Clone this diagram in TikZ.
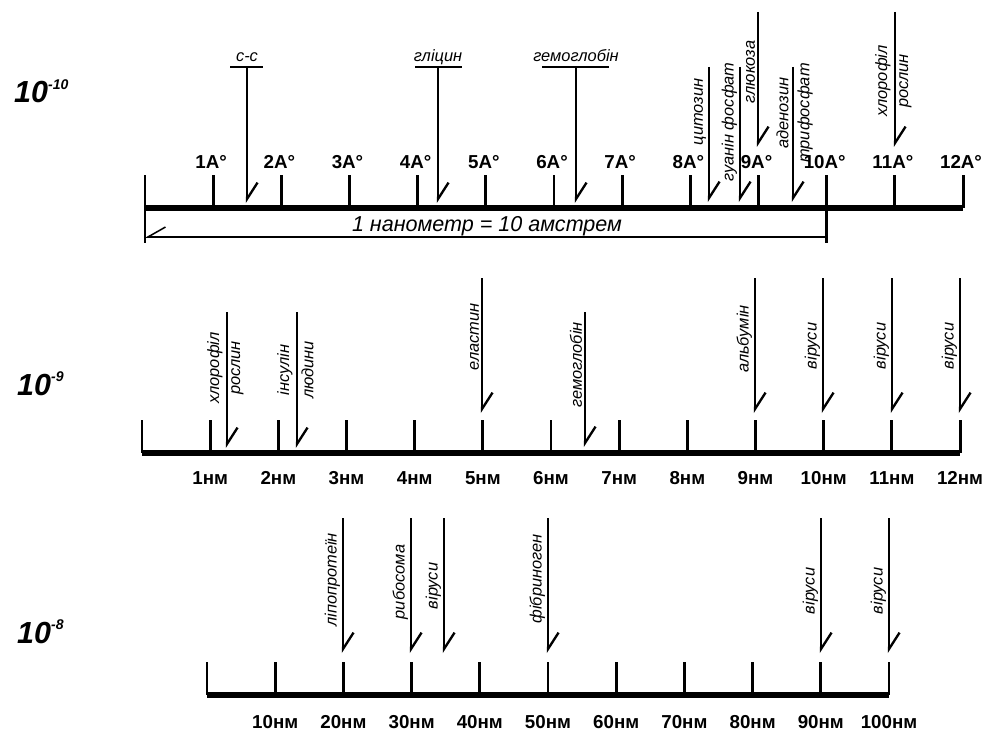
\documentclass[tikz,border=0pt]{standalone}
\usepackage{fontspec}
\setmainfont{Liberation Sans}
\usetikzlibrary{arrows.meta}

\begin{document}
\begin{tikzpicture}[
x=0.03cm, y=-0.03cm,
axisline/.style={line width=4.4pt},
scaletick/.style={line width=2.5pt},
pointer/.style={line width=2pt,-{Straight Barb[harpoon,length=14pt,width=18pt]}},
tbar/.style={line width=2pt},
bracketline/.style={line width=1.3pt},
ticklabel/.style={inner sep=0pt,font=\bfseries\fontsize{16}{16}\selectfont},
vlabel/.style={rotate=90,inner sep=1pt,font=\itshape\fontsize{14}{14}\selectfont},
hlabel/.style={inner sep=1pt,font=\itshape\fontsize{14}{14}\selectfont},
power/.style={anchor=base west,inner sep=0pt,
font=\bfseries\itshape\fontsize{26}{26}\selectfont}
]
\useasboundingbox (0,0) rectangle (985,732);

% powers of ten
\node[power] (p10) at (14,103) {10\raisebox{0.45em}{\fontsize{12}{12}\selectfont -10}};
\node[power] (p9) at (17,395) {10\raisebox{0.45em}{\fontsize{12}{12}\selectfont -9}};
\node[power] (p8) at (17,643) {10\raisebox{0.45em}{\fontsize{12}{12}\selectfont -8}};

% angstrom scale
\coordinate (a0) at (145,208);
\coordinate (a12) at (963,208);
\draw[axisline] (a0) -- (a12);
\draw[scaletick] (145,175) -- (145,243);
\foreach \i in {1,...,12}{
\coordinate (at\i) at ({145+68.17*\i},175);
\draw[scaletick] (at\i) -- ({145+68.17*\i},208);
\node[ticklabel] (a\i) at ({143+68.17*\i},162) {\i A°};
}
\draw[scaletick] (at10) -- ({145+68.17*10},243);

% 1 nm bracket
\coordinate (br0) at (145,237);
\coordinate (br1) at (826,237);
\draw[bracketline,{Straight Barb[harpoon,swap,length=15pt,width=17pt]}-] (br0) -- (br1);
\node[hlabel,font=\itshape\fontsize{18.4}{18.4}\selectfont] (nm) at (487,226) {1 нанометр = 10 амстрем};

% molecules with a bar on top
\foreach \px/\pl/\pr/\ptext/\pname in {247/230/263/с-с/cc,438/415/462/гліцин/gly,576/542/609/гемоглобін/hem}{
\coordinate (\pname-top) at (\px,67);
\coordinate (\pname-tip) at (\px,203);
\draw[tbar] (\pl,67) -- (\pr,67);
\draw[pointer] (\pname-top) -- (\pname-tip);
\node[hlabel,anchor=base] (\pname) at (\px,62) {\ptext};
}

% molecules with a side label
\foreach \px/\ptop/\ptip/\pyc/\ptext/\pname in {
709/67/202/112/цитозин/cyt,
740/67/202/122/гуанін фосфат/gua,
758/12/147/72/глюкоза/glu,
482/278/413/337/еластин/ela,
585/312/447/365/гемоглобін/hem2,
755/278/413/339/альбумін/alb,
823/278/413/346/віруси/vir1,
892/278/413/346/віруси/vir2,
960/278/413/346/віруси/vir3,
343/518/653/580/ліпопротеїн/lip,
411/518/653/582/рибосома/rib,
444/518/653/586/віруси/vir4,
548/518/653/579/фібриноген/fib,
821/518/653/591/віруси/vir5,
889/518/653/591/віруси/vir6}{
\coordinate (\pname-top) at (\px,\ptop);
\coordinate (\pname-tip) at (\px,\ptip);
\draw[pointer] (\pname-top) -- (\pname-tip);
\node[vlabel,anchor=south] (\pname) at (\px-1.5,\pyc) {\ptext};
}

% molecules with a label on both sides
\foreach \px/\ptop/\ptip/\pyc/\ptexta/\ptextb/\pname in {
793/67/202/113/аденозин/трифосфат/atp,
895/12/147/81/хлорофіл/рослин/chl,
227/312/448/368/хлорофіл/рослин/chl2,
297/312/448/370/інсулін/людини/ins}{
\coordinate (\pname-top) at (\px,\ptop);
\coordinate (\pname-tip) at (\px,\ptip);
\draw[pointer] (\pname-top) -- (\pname-tip);
\node[vlabel,anchor=south] (\pname-a) at (\px-3,\pyc) {\ptexta};
\node[vlabel,anchor=north] (\pname-b) at (\px+3,\pyc) {\ptextb};
}

% nanometre scale
\coordinate (n0) at (142,453);
\coordinate (n12) at (960,453);
\draw[axisline] (n0) -- (n12);
\draw[scaletick] (142,420) -- (142,453);
\foreach \i in {1,...,12}{
\coordinate (nt\i) at ({142+68.17*\i},420);
\draw[scaletick] (nt\i) -- ({142+68.17*\i},453);
\node[ticklabel] (n\i) at ({142+68.17*\i},478) {\i нм};
}

% ten nanometre scale
\coordinate (d0) at (207,695);
\coordinate (d10) at (889,695);
\draw[axisline] (d0) -- (d10);
\draw[scaletick] (207,662) -- (207,695);
\foreach \i [evaluate=\i as \n using int(10*\i)] in {1,...,10}{
\coordinate (dt\i) at ({207+68.2*\i},662);
\draw[scaletick] (dt\i) -- ({207+68.2*\i},695);
\node[ticklabel] (d\i) at ({207+68.2*\i},722) {\n нм};
}

\end{tikzpicture}
\end{document}
